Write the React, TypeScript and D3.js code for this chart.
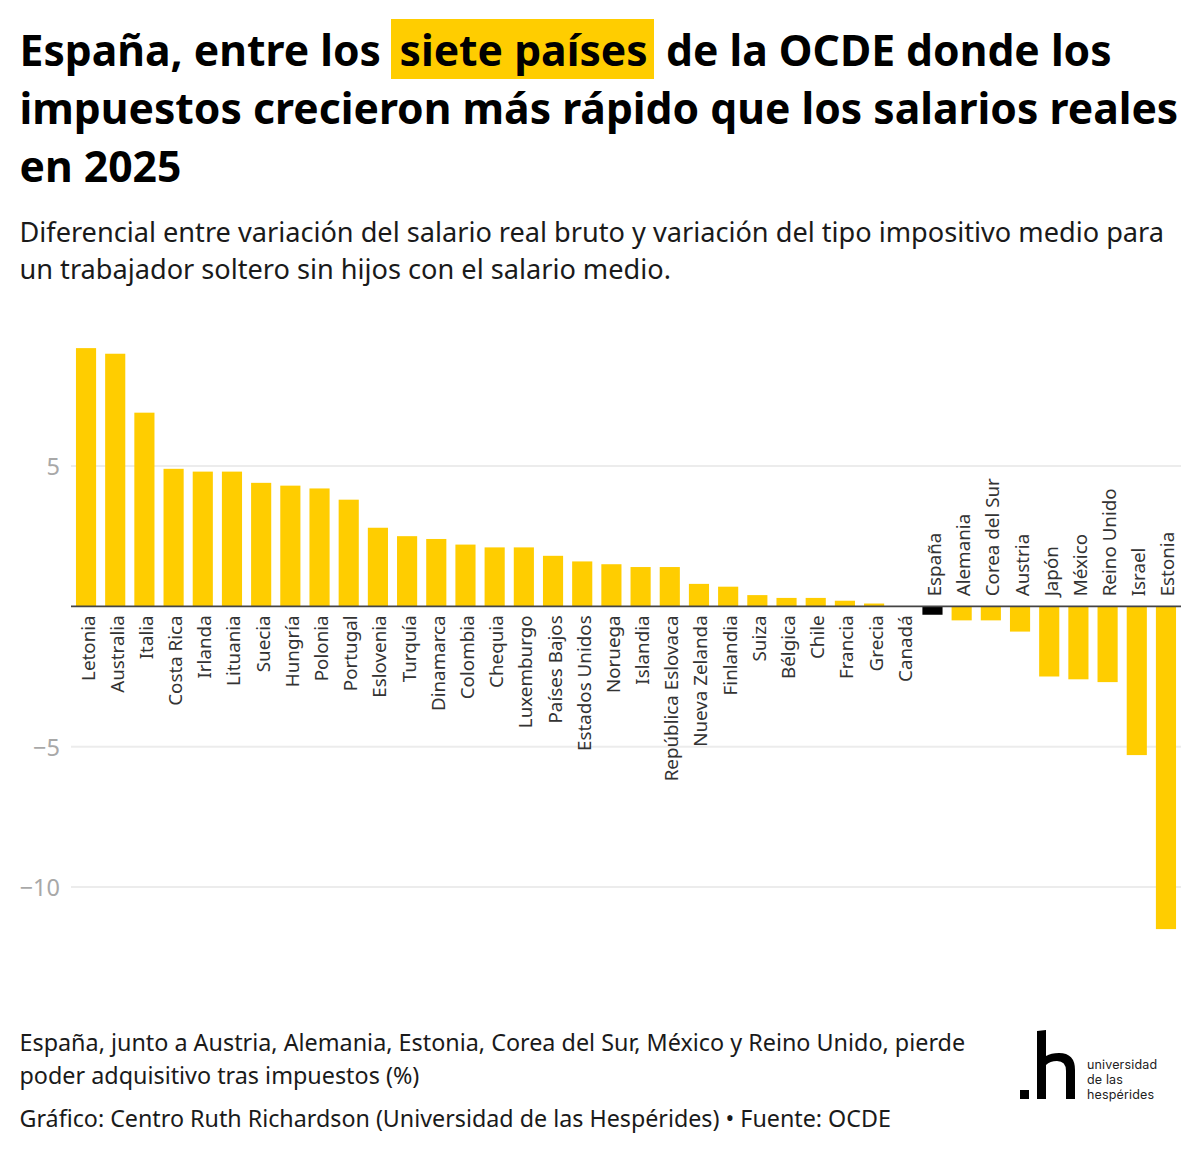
import React from "react";
import * as d3 from "d3";

const countries = ["Letonia","Australia","Italia","Costa Rica","Irlanda","Lituania","Suecia","Hungría","Polonia","Portugal","Eslovenia","Turquía","Dinamarca","Colombia","Chequia","Luxemburgo","Países Bajos","Estados Unidos","Noruega","Islandia","República Eslovaca","Nueva Zelanda","Finlandia","Suiza","Bélgica","Chile","Francia","Grecia","Canadá","España","Alemania","Corea del Sur","Austria","Japón","México","Reino Unido","Israel","Estonia"];
const values = [9.2,9.0,6.9,4.9,4.8,4.8,4.4,4.3,4.2,3.8,2.8,2.5,2.4,2.2,2.1,2.1,1.8,1.6,1.5,1.4,1.4,0.8,0.7,0.4,0.3,0.3,0.2,0.1,0,-0.3,-0.5,-0.5,-0.9,-2.5,-2.6,-2.7,-5.3,-11.5];
const yTicks = [5,0,-5,-10];
const highlight = "España";
const titleLines = ["impuestos crecieron más rápido que los salarios reales","en 2025"];
const subtitleLines = ["Diferencial entre variación del salario real bruto y variación del tipo impositivo medio para","un trabajador soltero sin hijos con el salario medio."];
const noteLines = ["España, junto a Austria, Alemania, Estonia, Corea del Sur, México y Reino Unido, pierde","poder adquisitivo tras impuestos (%)"];
const credit = "Gráfico: Centro Ruth Richardson (Universidad de las Hespérides) • Fuente: OCDE";
const logoLines = ["universidad","de las","hespérides"];

const font = "'Noto Sans', sans-serif";
const W = 1200, H = 1154;
const x = d3.scaleBand<string>().domain(countries).range([71, 1181]).paddingInner(0.31).paddingOuter(0.17);
const y = d3.scaleLinear().domain([-10, 5]).range([887, 466]);
const minus = (v: number) => (v < 0 ? "−" + Math.abs(v) : String(v));
const TS = 42.65;

export default function App() {
  return (
    <svg width={W} height={H} viewBox={`0 0 ${W} ${H}`} style={{ position: "absolute", left: 0, top: 0, background: "#fff" }} fontFamily={font}>
      <rect x={391} y={19} width={263} height={60} fill="#ffcd00" />
      <text x={19.5} y={66} fontSize={TS} fontWeight={700} fill="#000">España, entre los</text>
      <text x={399.5} y={66} fontSize={TS} fontWeight={700} fill="#000">siete países</text>
      <text x={666} y={66} fontSize={TS} fontWeight={700} fill="#000">de la OCDE donde los</text>
      {titleLines.map((t, i) => (
        <text key={t} x={19.5} y={124 + i * 58} fontSize={TS} fontWeight={700} fill="#000">{t}</text>
      ))}
      {subtitleLines.map((t, i) => (
        <text key={t} x={19.5} y={242 + i * 37} fontSize={27.15} fill="#1a1a1a">{t}</text>
      ))}
      {yTicks.filter(t => t !== 0).map(t => (
        <g key={t}>
          <line x1={71} x2={1181} y1={y(t)} y2={y(t)} stroke="#ececec" strokeWidth={2} />
          <text x={60} y={y(t) + 9} textAnchor="end" fontSize={23.5} fill="#a8a8a8">{minus(t)}</text>
        </g>
      ))}
      {countries.map((c, i) => {
        const v = values[i];
        return (
          <rect key={c} x={x(c)} width={x.bandwidth()} y={y(Math.max(v, 0))} height={Math.abs(y(v) - y(0))} fill={c === highlight ? "#000" : "#ffcd00"} />
        );
      })}
      <line x1={71} x2={1181} y1={y(0)} y2={y(0)} stroke="#444" strokeWidth={1.6} />
      {countries.map((c, i) => {
        const v = values[i];
        const cx = x(c)! + x.bandwidth() / 2;
        const neg = v < 0;
        const ly = y(0) + (neg ? -10 : 9);
        return (
          <text key={c} transform={`translate(${cx + 8.5},${ly}) rotate(-90)`} textAnchor={neg ? "start" : "end"} fontSize={18.8} fill="#333">{c}</text>
        );
      })}
      {noteLines.map((t, i) => (
        <text key={t} x={19.5} y={1051 + i * 33} fontSize={23.35} fill="#1a1a1a">{t}</text>
      ))}
      <text x={19.5} y={1127} fontSize={23.27} fill="#1a1a1a">{credit}</text>
      <rect x={1020} y={1090} width={9} height={9} fill="#000" />
      <path d="M1037 1031 L1046 1030 L1046 1056 Q1051 1053 1059 1053 Q1075 1053 1075 1070 L1075 1099 L1066 1099 L1066 1071 Q1066 1061 1057 1061 Q1050 1061 1046 1065 L1046 1099 L1037 1099 Z" fill="#000" />
      {logoLines.map((t, i) => (
        <text key={t} x={1087} y={1069 + i * 15} fontSize={12.5} fontFamily="Inter, sans-serif" fill="#222" letterSpacing={0.15}>{t}</text>
      ))}
    </svg>
  );
}
